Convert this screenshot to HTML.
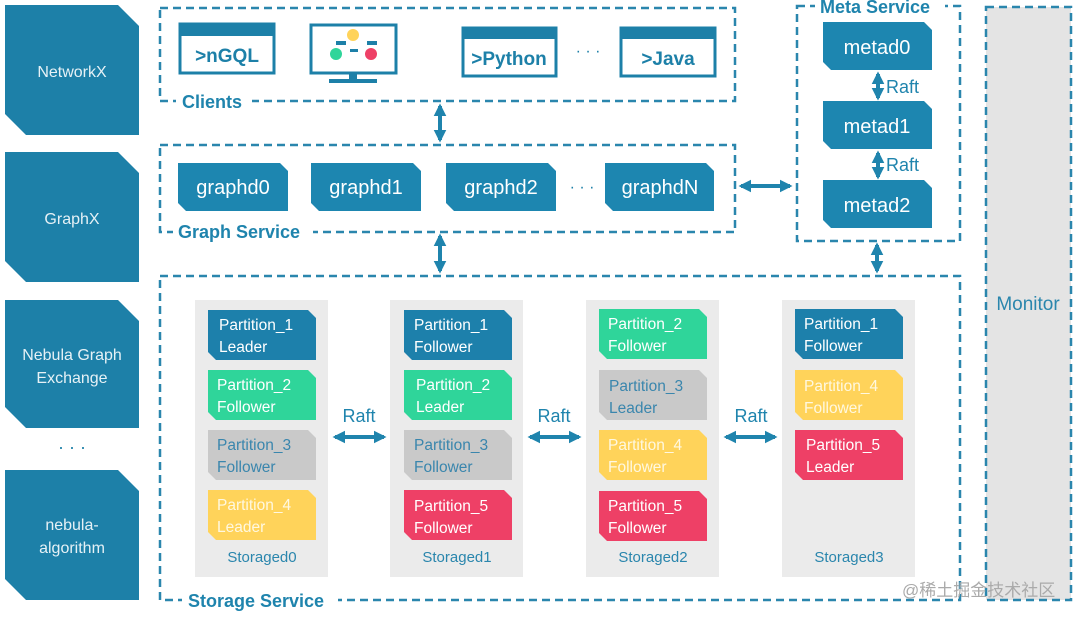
<!DOCTYPE html>
<html><head><meta charset="utf-8"><style>
html,body{margin:0;padding:0;background:#fff;}
svg{display:block;font-family:"Liberation Sans","Noto Sans CJK SC",sans-serif;}
</style></head><body>
<svg width="1080" height="618" viewBox="0 0 1080 618" xmlns="http://www.w3.org/2000/svg">
<defs>
<marker id="ah" viewBox="0 0 10 10" refX="8" refY="5" markerWidth="3.2" markerHeight="3.2" orient="auto-start-reverse"><path d="M0,0 L10,5 L0,10 Z" fill="#1f84ad"/></marker>
</defs>
<!-- Monitor -->
<rect x="986" y="7" width="85" height="593" fill="#e4e4e4" stroke="#2a86ad" stroke-width="2.5" stroke-dasharray="8 5"/>
<text x="1028" y="310" text-anchor="middle" font-size="19" fill="#2a86ad">Monitor</text>

<!-- left boxes -->
<g fill="#1d80a8">
<path d="M5,5 H118 L139,26 V135 H26 L5,114 Z"/>
<path d="M5,152 H118 L139,173 V282 H26 L5,261 Z"/>
<path d="M5,300 H118 L139,321 V428 H26 L5,407 Z"/>
<path d="M5,470 H118 L139,491 V600 H26 L5,579 Z"/>
</g>
<g fill="#e6f1f6" font-size="16" text-anchor="middle">
<text x="72" y="77">NetworkX</text>
<text x="72" y="224">GraphX</text>
<text x="72" y="360">Nebula Graph</text>
<text x="72" y="383">Exchange</text>
<text x="72" y="530">nebula-</text>
<text x="72" y="553">algorithm</text>
</g>
<text x="72" y="453" text-anchor="middle" font-size="18" fill="#1d80a8">· · ·</text>

<!-- dashed containers -->
<g fill="none" stroke="#2a86ad" stroke-width="2.5" stroke-dasharray="8 5">
<rect x="160" y="8" width="575" height="93"/>
<rect x="160" y="145" width="575" height="87"/>
<rect x="160" y="276" width="800" height="324"/>
<rect x="797" y="6" width="163" height="235"/>
</g>
<g fill="#fff">
<rect x="176" y="92" width="76" height="20"/>
<rect x="173" y="222" width="140" height="20"/>
<rect x="182" y="590" width="156" height="22"/>
<rect x="815" y="0" width="130" height="14"/>
</g>
<g fill="#1f84ad" font-weight="bold" font-size="18">
<text x="182" y="108">Clients</text>
<text x="178" y="238">Graph Service</text>
<text x="188" y="607">Storage Service</text>
<text x="820" y="13">Meta Service</text>
</g>

<!-- clients -->
<g fill="none" stroke="#1d80a8" stroke-width="3">
<rect x="180" y="24" width="94" height="49"/>
<rect x="463" y="28" width="93" height="48"/>
<rect x="621" y="28" width="94" height="48"/>
<rect x="311" y="25" width="85" height="48"/>
</g>
<g fill="#1d80a8">
<rect x="180" y="24" width="94" height="12"/>
<rect x="463" y="28" width="93" height="11"/>
<rect x="621" y="28" width="94" height="11"/>
<rect x="349" y="73" width="8" height="7"/>
<rect x="329" y="79" width="48" height="4"/>
<rect x="336" y="41" width="10" height="4"/>
<rect x="367" y="41" width="10" height="4"/>
<rect x="350" y="49" width="8" height="3"/>
</g>
<circle cx="353" cy="35" r="6" fill="#ffd35a"/>
<circle cx="336" cy="54" r="6" fill="#2fd59a"/>
<circle cx="371" cy="54" r="6" fill="#ee4066"/>
<g fill="#1d80a8" font-weight="bold" font-size="19" text-anchor="middle">
<text x="227" y="62">&gt;nGQL</text>
<text x="509" y="65">&gt;Python</text>
<text x="668" y="65">&gt;Java</text>
</g>
<text x="588" y="56" text-anchor="middle" font-size="16" fill="#1d80a8">· · ·</text>

<!-- graphd -->
<g fill="#1d86b0">
<path d="M178,163 H280 L288,171 V211 H186 L178,203 Z"/>
<path d="M311,163 H413 L421,171 V211 H319 L311,203 Z"/>
<path d="M446,163 H548 L556,171 V211 H454 L446,203 Z"/>
<path d="M605,163 H706 L714,171 V211 H613 L605,203 Z"/>
<path d="M823,22 H924 L932,30 V70 H831 L823,62 Z"/>
<path d="M823,101 H924 L932,109 V149 H831 L823,141 Z"/>
<path d="M823,180 H924 L932,188 V228 H831 L823,220 Z"/>
</g>
<g fill="#fff" font-size="20" text-anchor="middle">
<text x="233" y="194">graphd0</text>
<text x="366" y="194">graphd1</text>
<text x="501" y="194">graphd2</text>
<text x="660" y="194">graphdN</text>
<text x="877" y="54">metad0</text>
<text x="877" y="133">metad1</text>
<text x="877" y="212">metad2</text>
</g>
<text x="582" y="192" text-anchor="middle" font-size="16" fill="#1d80a8">· · ·</text>
<g fill="#1f84ad" font-size="18">
<text x="886" y="93">Raft</text>
<text x="886" y="171">Raft</text>
</g>

<!-- arrows -->
<g stroke="#1f84ad" stroke-width="4" marker-start="url(#ah)" marker-end="url(#ah)">
<line x1="440" y1="106" x2="440" y2="140"/>
<line x1="440" y1="236" x2="440" y2="271"/>
<line x1="877" y1="245" x2="877" y2="271"/>
<line x1="878" y1="74" x2="878" y2="98"/>
<line x1="878" y1="153" x2="878" y2="177"/>
<line x1="741" y1="186" x2="790" y2="186"/>
<line x1="335" y1="437" x2="384" y2="437"/>
<line x1="530" y1="437" x2="579" y2="437"/>
<line x1="726" y1="437" x2="775" y2="437"/>
</g>
<g fill="#1f84ad" font-size="18" text-anchor="middle">
<text x="359" y="422">Raft</text>
<text x="554" y="422">Raft</text>
<text x="751" y="422">Raft</text>
</g>

<!-- storage columns -->
<g fill="#ebebeb">
<rect x="195" y="300" width="133" height="277"/>
<rect x="390" y="300" width="133" height="277"/>
<rect x="586" y="300" width="133" height="277"/>
<rect x="782" y="300" width="133" height="277"/>
</g>
<g fill="#2a86ad" font-size="15" text-anchor="middle">
<text x="262" y="562">Storaged0</text>
<text x="457" y="562">Storaged1</text>
<text x="653" y="562">Storaged2</text>
<text x="849" y="562">Storaged3</text>
</g>
<g>
<path d="M208,310 H308 L316,318 V360 H216 L208,352 Z" fill="#1d80ab"/>
<path d="M208,370 H308 L316,378 V420 H216 L208,412 Z" fill="#2fd59a"/>
<path d="M208,430 H308 L316,438 V480 H216 L208,472 Z" fill="#c9c9c9"/>
<path d="M208,490 H308 L316,498 V540 H216 L208,532 Z" fill="#ffd35a"/>

<path d="M404,310 H504 L512,318 V360 H412 L404,352 Z" fill="#1d80ab"/>
<path d="M404,370 H504 L512,378 V420 H412 L404,412 Z" fill="#2fd59a"/>
<path d="M404,430 H504 L512,438 V480 H412 L404,472 Z" fill="#c9c9c9"/>
<path d="M404,490 H504 L512,498 V540 H412 L404,532 Z" fill="#ee4066"/>

<path d="M599,309 H699 L707,317 V359 H607 L599,351 Z" fill="#2fd59a"/>
<path d="M599,370 H699 L707,378 V420 H607 L599,412 Z" fill="#c9c9c9"/>
<path d="M599,430 H699 L707,438 V480 H607 L599,472 Z" fill="#ffd35a"/>
<path d="M599,491 H699 L707,499 V541 H607 L599,533 Z" fill="#ee4066"/>

<path d="M795,309 H895 L903,317 V359 H803 L795,351 Z" fill="#1d80ab"/>
<path d="M795,370 H895 L903,378 V420 H803 L795,412 Z" fill="#ffd35a"/>
<path d="M795,430 H895 L903,438 V480 H803 L795,472 Z" fill="#ee4066"/>
</g>
<g font-size="15.5">
<g fill="#fff">
<text x="219" y="330">Partition_1</text><text x="219" y="352">Leader</text>
<text x="217" y="390">Partition_2</text><text x="217" y="412">Follower</text>
<text x="217" y="510" fill="#fff8e0">Partition_4</text><text x="217" y="532" fill="#fff8e0">Leader</text>
<text x="414" y="330">Partition_1</text><text x="414" y="352">Follower</text>
<text x="416" y="390">Partition_2</text><text x="416" y="412">Leader</text>
<text x="414" y="511">Partition_5</text><text x="414" y="533">Follower</text>
<text x="608" y="329">Partition_2</text><text x="608" y="351">Follower</text>
<text x="608" y="450" fill="#fff8e0">Partition_4</text><text x="608" y="472" fill="#fff8e0">Follower</text>
<text x="608" y="511">Partition_5</text><text x="608" y="533">Follower</text>
<text x="804" y="329">Partition_1</text><text x="804" y="351">Follower</text>
<text x="804" y="391" fill="#fff8e0">Partition_4</text><text x="804" y="413" fill="#fff8e0">Follower</text>
<text x="806" y="450">Partition_5</text><text x="806" y="472">Leader</text>
</g>
<g fill="#3a86ad">
<text x="217" y="450">Partition_3</text><text x="217" y="472">Follower</text>
<text x="414" y="450">Partition_3</text><text x="414" y="472">Follower</text>
<text x="609" y="391">Partition_3</text><text x="609" y="413">Leader</text>
</g>
</g>
<text x="902" y="596" font-size="17" fill="#aaaaaa">@稀土掘金技术社区</text>
</svg>
</body></html>
